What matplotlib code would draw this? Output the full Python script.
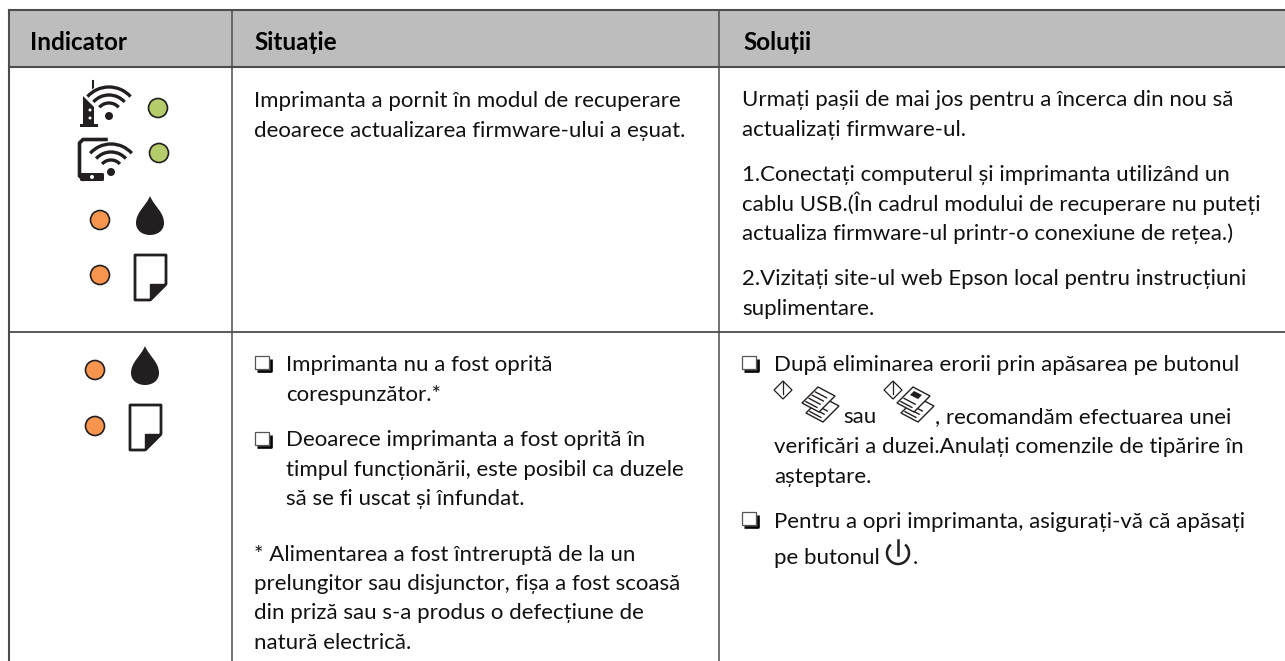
import matplotlib
matplotlib.use('Agg')
import matplotlib.pyplot as plt
import matplotlib.patches as patches
from matplotlib.path import Path

plt.rcParams['font.family'] = ['Lato', 'DejaVu Sans']

headers = ['Indicator', 'Situație', 'Soluții']

situation_top = ['Imprimanta a pornit în modul de recuperare',
                 'deoarece actualizarea firmware-ului a eșuat.']
solution_intro = ['Urmați pașii de mai jos pentru a încerca din nou să',
                  'actualizați firmware-ul.']
solution_step1 = ['1.Conectați computerul și imprimanta utilizând un',
                  'cablu USB.(În cadrul modului de recuperare nu puteți',
                  'actualiza firmware-ul printr-o conexiune de rețea.)']
solution_step2 = ['2.Vizitați site-ul web Epson local pentru instrucțiuni',
                  'suplimentare.']
situation_b1 = ['Imprimanta nu a fost oprită', 'corespunzător.*']
situation_b2 = ['Deoarece imprimanta a fost oprită în',
                'timpul funcționării, este posibil ca duzele',
                'să se fi uscat și înfundat.']
situation_note = ['* Alimentarea a fost întreruptă de la un',
                  'prelungitor sau disjunctor, fișa a fost scoasă',
                  'din priză sau s-a produs o defecțiune de',
                  'natură electrică.']
solution_b1_first = 'După eliminarea erorii prin apăsarea pe butonul'
solution_b1_sau = 'sau'
solution_b1_after = ', recomandăm efectuarea unei'
solution_b1_rest = ['verificări a duzei.Anulați comenzile de tipărire în', 'așteptare.']
solution_b2 = ['Pentru a opri imprimanta, asigurați-vă că apăsați']
solution_b2_last = 'pe butonul'

W, H = 1285, 661
LINE = '#4d4d4d'
DARK = '#231f20'
GREEN = '#b5cc6a'
ORANGE = '#f7944d'
TEXT = '#111111'
FS = 16.0

fig = plt.figure(figsize=(W / 100, H / 100), dpi=100)
ax = fig.add_axes([0, 0, 1, 1])
ax.set_xlim(0, W)
ax.set_ylim(H, 0)
ax.axis('off')


def block(lines, x, y, step=29.6):
    for i, s in enumerate(lines):
        ax.text(x, y + i * step, s, fontsize=FS, color=TEXT, va='baseline', ha='left')


def led(x, y, color):
    ax.add_patch(patches.Circle((x, y), 9.5, fc=color, ec=DARK, lw=1.2, zorder=3))


def drop(x, y):
    # y is the tip, drop is 39 px high
    verts = [(x, y), (x + 4, y + 10), (x + 14, y + 16), (x + 14, y + 27), (x + 14, y + 35), (x + 7, y + 39), (x, y + 39),
             (x - 7, y + 39), (x - 14, y + 35), (x - 14, y + 27), (x - 14, y + 16), (x - 4, y + 10), (x, y)]
    codes = [Path.MOVETO] + [Path.CURVE4] * 12
    ax.add_patch(patches.PathPatch(Path(verts, codes), fc=DARK, ec='none', zorder=3))


def paper(x, y):
    # x, y top left corner
    w, h = 31, 45
    pts = [(x, y), (x + w, y), (x + w, y + h - 16), (x + w - 16, y + h), (x, y + h)]
    ax.add_patch(patches.Polygon(pts, closed=True, fc='white', ec=DARK, lw=2.0, joinstyle='round', zorder=3))
    fold = [(x + w, y + h - 16), (x + w - 16, y + h - 16), (x + w - 16, y + h)]
    ax.add_patch(patches.Polygon(fold, closed=True, fc=DARK, ec=DARK, lw=1, zorder=4))


def arcs(cx, cy, radii, lw):
    for r in radii:
        ax.add_patch(patches.Arc((cx, cy), 2 * r, 2 * r, theta1=222, theta2=318, color='white', lw=lw + 1.4, zorder=4))
        ax.add_patch(patches.Arc((cx, cy), 2 * r, 2 * r, theta1=222, theta2=318, color=DARK, lw=lw, zorder=5))
    ax.add_patch(patches.Circle((cx, cy), 4, fc=DARK, ec='none', zorder=5))


def checkbox(x, y):
    # hollow square with heavy lower right shadow
    ax.add_patch(patches.Rectangle((x, y), 14, 13, fc='white', ec='#555555', lw=0.9, zorder=3))
    ax.plot([x + 2, x + 15.5, x + 15.5], [y + 14.5, y + 14.5, y + 3], color='black', lw=1.9, solid_capstyle='butt', zorder=4)


def sheet(tx, ty, rows, zorder):
    # tilted page, tx, ty is the top corner
    pts = [(tx, ty), (tx + 17, ty + 9), (tx + 1, ty + 25), (tx - 16, ty + 16)]
    ax.add_patch(patches.Polygon(pts, closed=True, fc='white', ec=DARK, lw=1.0, zorder=zorder))
    for k in rows:
        x0, y0 = tx - 2.5 - 3.2 * k, ty + 5 + 3.2 * k
        ax.plot([x0, x0 + 11], [y0, y0 + 5.8], color=DARK, lw=1.0, zorder=zorder)


def key_icon(x, y, tx, dense):
    # diamond start mark plus two stacked sheets
    ax.add_patch(patches.Polygon([(x, y - 9), (x + 9, y), (x, y + 9), (x - 9, y)], closed=True, fc='white', ec=DARK, lw=0.9, zorder=3))
    ax.plot([x, x], [y - 8, y + 4], color=DARK, lw=0.9, zorder=4)
    sheet(tx + 4, 397, (1, 2, 3), 3)
    if dense:
        sheet(tx, 387, (2, 3), 4)
        ax.add_patch(patches.Polygon([(tx + 1, 391), (tx + 9, 395), (tx + 5, 399), (tx - 3, 395)], closed=True,
                                     fc=DARK, ec='none', zorder=5))
    else:
        sheet(tx, 387, (0, 1, 2, 3), 4)


# table
ax.add_patch(patches.Rectangle((8.5, 10), W - 8.5, 57, fc='#bdbdbd', ec='none', zorder=0))
ax.plot([8.5, W], [10, 10], color=LINE, lw=1.5)
ax.plot([8.5, W], [67, 67], color=LINE, lw=1.5)
ax.plot([8.5, W], [331.5, 331.5], color=LINE, lw=1.3)
for x, lw in zip((8.8, 232, 719), (1.5, 1.1, 1.1)):
    ax.plot([x, x], [10, H], color=LINE, lw=lw)

# header
for s, x in zip(headers, (30, 254.5, 743)):
    ax.text(x, 50, s, fontsize=17.5, fontweight='bold', color='black', va='baseline')

# row 1 text
block(situation_top, 254, 107)
block(solution_intro, 742.5, 106)
block(solution_step1, 742.5, 181)
block(solution_step2, 742.5, 285)

# row 2 text
checkbox(255, 356)
block(situation_b1, 286, 371)
checkbox(255, 432)
block(situation_b2, 286, 446)
block(situation_note, 254.5, 561, step=29.2)

checkbox(742, 356)
block([solution_b1_first], 774, 371)
ax.text(843, 423, solution_b1_sau, fontsize=FS, color=TEXT)
ax.text(935, 423, solution_b1_after, fontsize=FS, color=TEXT)
block(solution_b1_rest, 774, 453)
checkbox(742, 512)
block(solution_b2, 774, 528)
ax.text(774, 564, solution_b2_last, fontsize=FS, color=TEXT)
ax.text(913, 564, '.', fontsize=FS, color=TEXT)
ax.add_patch(patches.Arc((898, 553), 22, 22, theta1=-50, theta2=230, color=DARK, lw=1.8))
ax.plot([898, 898], [540, 555], color=DARK, lw=1.8)
key_icon(783, 390, 818, False)
key_icon(893, 390, 913, True)

# icons: router + wifi
ax.plot([93, 93], [81, 90], color=DARK, lw=1.5)
ax.add_patch(patches.Polygon([(83, 96), (94, 107), (94, 124), (98, 124), (98, 127), (80, 127), (80, 124), (83, 124)],
                             closed=True, fc=DARK, ec='none', zorder=3))
for dot_y in (110, 118):
    ax.add_patch(patches.Circle((90, dot_y), 1.5, fc='white', ec='none', zorder=4))
arcs(109, 116, [13, 21, 29], 2.4)
led(158, 108, GREEN)

# icons: tablet + wifi
ax.plot([106, 83, 79.5, 79.5, 83], [139.5, 139.5, 143, 176, 179], color=DARK, lw=2.6, zorder=3)
ax.add_patch(patches.FancyBboxPatch((80, 173), 24, 8, boxstyle='round,pad=0,rounding_size=1.5', fc=DARK, ec='none', zorder=3))
ax.add_patch(patches.Circle((92, 177), 2, fc='white', ec='none', zorder=4))
arcs(111, 172, [12, 20, 28], 2.4)
led(159, 153, GREEN)

# ink and paper
led(100, 220, ORANGE)
drop(150, 196)
led(100, 275, ORANGE)
paper(135, 255)

led(95, 370, ORANGE)
drop(145, 346)
led(95, 426, ORANGE)
paper(130, 405)

fig.savefig('out.png', dpi=100)
